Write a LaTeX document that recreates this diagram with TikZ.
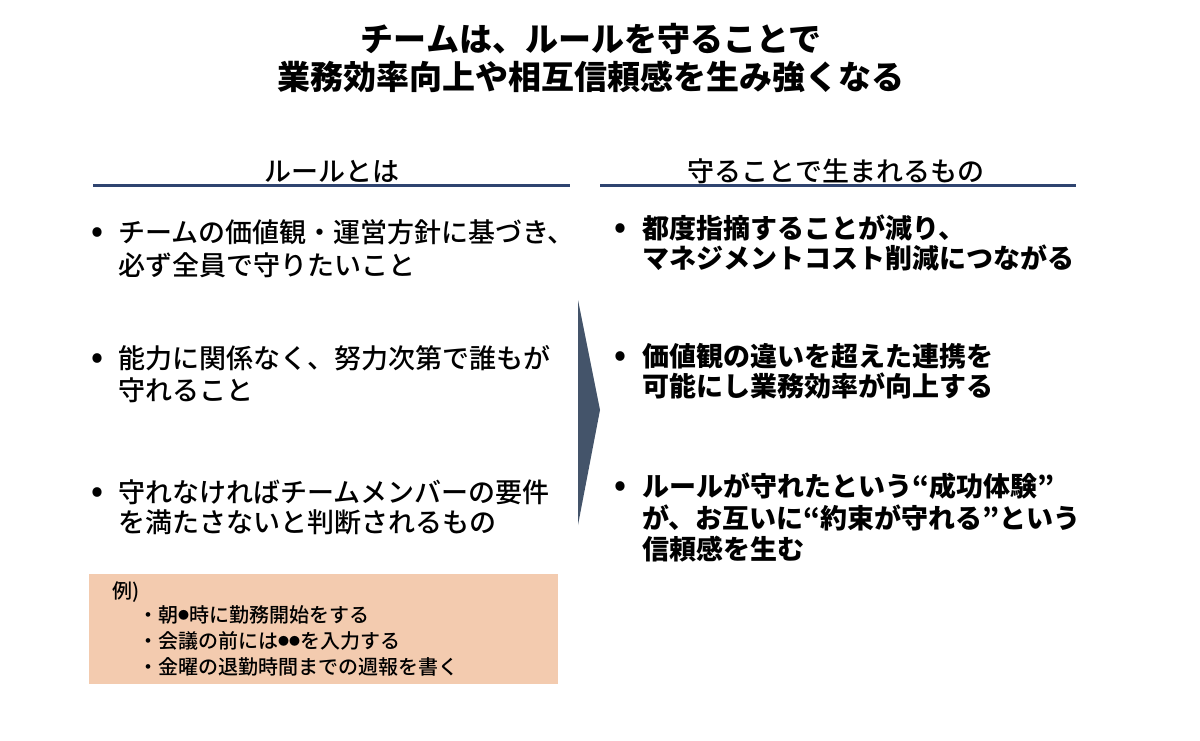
\documentclass[tikz,border=0pt]{standalone}
\usepackage{fontspec}
\setmainfont{Noto Sans CJK JP}
\newfontfamily\jp{Noto Sans CJK JP}
\newfontfamily\jpm{Noto Sans CJK JP Medium}
\definecolor{navy}{HTML}{2F4470}
\definecolor{slate}{HTML}{44546A}
\definecolor{peach}{HTML}{F3CBAF}
\newcommand{\smalldotmark}{\raisebox{0.12em}{\fontsize{11}{12}\selectfont ●}}
\tikzset{
  title/.style={anchor=base, inner sep=0pt, font=\jp\bfseries\fontsize{33}{40}\selectfont},
  head/.style={anchor=base, inner sep=0pt, font=\jpm\fontsize{27}{32}\selectfont},
  ltxt/.style={anchor=base west, inner sep=0pt, font=\jpm\fontsize{27}{32}\selectfont},
  rtxt/.style={anchor=base west, inner sep=0pt, font=\jp\bfseries\fontsize{27}{32}\selectfont},
  bul/.style={anchor=base, inner sep=0pt, font=\jp\bfseries\fontsize{30}{32}\selectfont},
  etxt/.style={anchor=base west, inner sep=0pt, font=\jpm\fontsize{20}{24}\selectfont},
  rule/.style={draw=navy, line width=3pt},
}
\begin{document}
\begin{tikzpicture}[x=1pt,y=-1pt]
\useasboundingbox (0,0) rectangle (1200,741);
% title
\node[title] (t1) at (591,52) {チームは、ルールを守ることで};
\node[title] (t2) at (591,90) {業務効率向上や相互信頼感を生み強くなる};
% headings
\node[head] (hl) at (332,182) {ルールとは};
\node[head] (hr) at (836,182) {守ることで生まれるもの};
\coordinate (hla) at (93,186); \coordinate (hlb) at (570,186);
\coordinate (hra) at (600,186); \coordinate (hrb) at (1076,186);
\draw[rule] (hla) -- (hlb);
\draw[rule] (hra) -- (hrb);
% left bullets
\node[bul] (lb1) at (97,241) {•};
\node[ltxt] (l1a) at (118,242) {チームの価値観・運営方針に基づき、};
\node[ltxt] (l1b) at (118,275) {必ず全員で守りたいこと};
\node[bul] (lb2) at (97,367) {•};
\node[ltxt] (l2a) at (118,368) {能力に関係なく、努力次第で誰もが};
\node[ltxt] (l2b) at (118,400) {守れること};
\node[bul] (lb3) at (97,501) {•};
\node[ltxt] (l3a) at (118,502) {守れなければチームメンバーの要件};
\node[ltxt] (l3b) at (118,532) {を満たさないと判断されるもの};
% arrow
\coordinate (aT) at (578,300);
\coordinate (aP) at (600,410);
\coordinate (aB) at (578,525);
\fill[slate] (aT) -- (aP) -- (aB) -- cycle;
% right bullets
\node[bul] (rb1) at (620,237) {•};
\node[rtxt] (r1a) at (642,238) {都度指摘することが減り、};
\node[rtxt] (r1b) at (642,268) {マネジメントコスト削減につながる};
\node[bul] (rb2) at (620,365) {•};
\node[rtxt] (r2a) at (642,366) {価値観の違いを超えた連携を};
\node[rtxt] (r2b) at (642,396) {可能にし業務効率が向上する};
\node[bul] (rb3) at (620,495) {•};
\node[rtxt] (r3a) at (642,496) {ルールが守れたという“成功体験”};
\node[rtxt] (r3b) at (642,528) {が、お互いに“約束が守れる”という};
\node[rtxt] (r3c) at (642,559) {信頼感を生む};
% example box
\fill[peach] (89,574) rectangle (558,684);
\node[etxt] (e0) at (112,598) {例)};
\node[etxt] (e1) at (138,622) {・朝\smalldotmark 時に勤務開始をする};
\node[etxt] (e2) at (138,648) {・会議の前には\smalldotmark\smalldotmark を入力する};
\node[etxt] (e3) at (138,674) {・金曜の退勤時間までの週報を書く};
\end{tikzpicture}
\end{document}
